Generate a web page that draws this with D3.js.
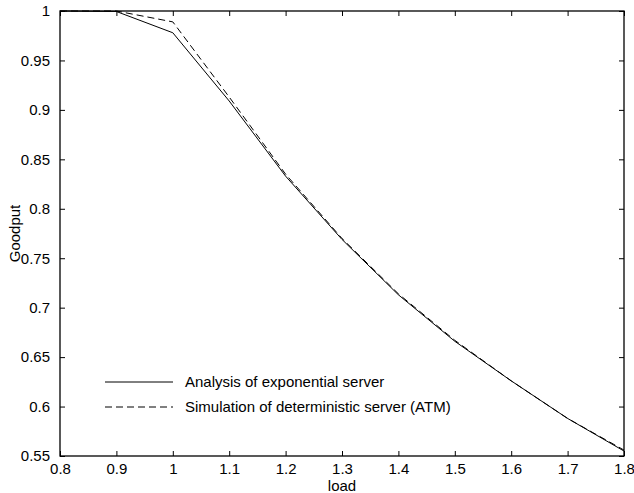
<!DOCTYPE html>
<html>
<head>
<meta charset="utf-8">
<script src="https://cdn.jsdelivr.net/npm/d3@7"></script>
<style>
  body { margin: 0; background: #fff; }
  svg { display: block; font-family: "Liberation Sans", Arial, sans-serif; }
</style>
</head>
<body>
<div id="chart"></div>
<script>
// values
var loads = [0.8, 0.9, 1.0, 1.1, 1.2, 1.3, 1.4, 1.5, 1.6, 1.7, 1.8];
var analysisExp = [1.0, 0.9995, 0.978, 0.909, 0.833, 0.769, 0.713, 0.666, 0.626, 0.588, 0.555];
var simDet = [1.0, 1.0, 0.989, 0.913, 0.835, 0.770, 0.714, 0.667, 0.626, 0.588, 0.556];
var xTicks = [0.8, 0.9, 1, 1.1, 1.2, 1.3, 1.4, 1.5, 1.6, 1.7, 1.8];
var yTicks = [0.55, 0.6, 0.65, 0.7, 0.75, 0.8, 0.85, 0.9, 0.95, 1];
var legendLabels = ["Analysis of exponential server", "Simulation of deterministic server (ATM)"];

var width = 634,
  height = 493;
var padL = 60, padR = 624, padT = 11, padB = 456;
var fontSize = "15px";

var svg = d3.select("#chart").append("svg")
  .attr("width", width)
  .attr("height", height);

var x = d3.scaleLinear().domain([0.8, 1.8]).range([padL, padR]);
var y = d3.scaleLinear().domain([0.55, 1]).range([padB, padT]);

// frame box
svg.append("rect")
  .attr("x", padL).attr("y", padT)
  .attr("width", padR - padL).attr("height", padB - padT)
  .attr("fill", "none").attr("stroke", "#000").attr("stroke-width", 1.3);

function fmt(d) { return String(+d.toFixed(2)); }

// bottom axis, ticks inward
svg.append("g")
  .attr("transform", "translate(0," + padB + ")")
  .call(d3.axisBottom(x).tickValues(xTicks).tickSizeInner(-5).tickSizeOuter(0).tickPadding(7).tickFormat(fmt))
  .call(function(g) { g.select(".domain").remove(); });
// top ticks
svg.append("g")
  .attr("transform", "translate(0," + padT + ")")
  .call(d3.axisTop(x).tickValues(xTicks).tickSizeInner(-5).tickSizeOuter(0).tickFormat(""))
  .call(function(g) { g.select(".domain").remove(); });
// left axis
svg.append("g")
  .attr("transform", "translate(" + padL + ",0)")
  .call(d3.axisLeft(y).tickValues(yTicks).tickSizeInner(-5).tickSizeOuter(0).tickPadding(10).tickFormat(fmt))
  .call(function(g) { g.select(".domain").remove(); });
// right ticks
svg.append("g")
  .attr("transform", "translate(" + padR + ",0)")
  .call(d3.axisRight(y).tickValues(yTicks).tickSizeInner(-5).tickSizeOuter(0).tickFormat(""))
  .call(function(g) { g.select(".domain").remove(); });

svg.selectAll(".tick text")
  .attr("font-size", fontSize)
  .attr("font-family", "'Liberation Sans', Arial, sans-serif")
  .attr("fill", "#000");
svg.selectAll(".tick line").attr("stroke", "#000");

// curves
var line = d3.line()
  .x(function(d) { return x(d[0]); })
  .y(function(d) { return y(d[1]); });

svg.append("path")
  .datum(d3.zip(loads, analysisExp))
  .attr("d", line)
  .attr("fill", "none")
  .attr("stroke", "#000")
  .attr("stroke-width", 1);

svg.append("path")
  .datum(d3.zip(loads, simDet))
  .attr("d", line)
  .attr("fill", "none")
  .attr("stroke", "#000")
  .attr("stroke-width", 1)
  .attr("stroke-dasharray", "7,4");

// legend
var legend = svg.append("g");
legendLabels.forEach(function(lab, i) {
  var ly = 382 + i * 25;
  legend.append("line")
    .attr("x1", 105).attr("x2", 173)
    .attr("y1", ly).attr("y2", ly)
    .attr("stroke", "#000").attr("stroke-width", 1)
    .attr("stroke-dasharray", i === 1 ? "7,4" : null);
  legend.append("text")
    .attr("x", 185).attr("y", ly)
    .attr("dy", "0.35em")
    .attr("font-size", fontSize)
    .text(lab);
});

// axis labels
svg.append("text")
  .attr("x", (padL + padR) / 2).attr("y", 491)
  .attr("text-anchor", "middle")
  .attr("font-size", fontSize)
  .text("load");

svg.append("text")
  .attr("transform", "translate(20," + ((padT + padB) / 2) + ") rotate(-90)")
  .attr("text-anchor", "middle")
  .attr("font-size", fontSize)
  .text("Goodput");
</script>
</body>
</html>
